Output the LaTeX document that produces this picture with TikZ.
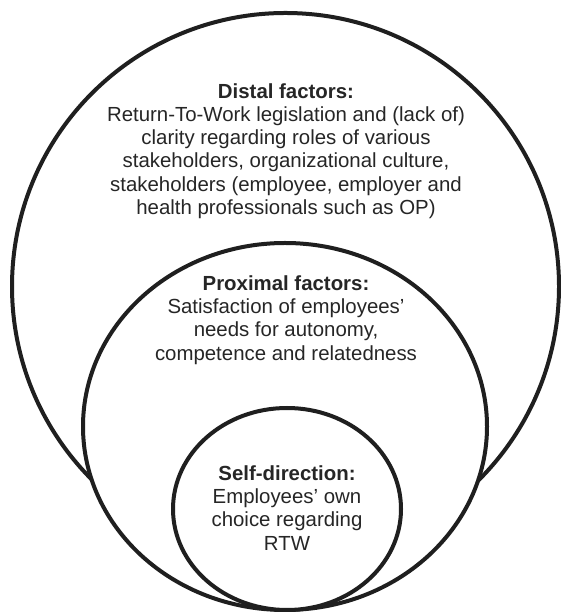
\documentclass[tikz,border=0pt]{standalone}
\usepackage{fontspec}
\setmainfont{Liberation Sans}
\usetikzlibrary{positioning}

\begin{document}
\begin{tikzpicture}[x=1pt, y=1pt,
  ring/.style={line width=4pt, draw=black!88, fill=white},
  every node/.style={align=center, text=black!85,
    font=\fontsize{20.4}{23.2}\selectfont}
 ]
 \useasboundingbox (0,0) rectangle (561,612);

 % outer circle first, the white fill of the next one hides its lower arc
 \draw [ring] (285.5,325.5) circle [radius=273.5];
 \draw [ring] (285,185.5) ellipse [x radius=202, y radius=183.5];
 \draw [ring] (287,103) ellipse [x radius=114, y radius=101];

 \node (D) at (286,461) {\textbf{Distal factors:}\\
  Return-To-Work legislation and (lack of)\\
  clarity regarding roles of various\\
  stakeholders, organizational culture,\\
  stakeholders (employee, employer and\\
  health professionals such as OP)};
 \node (P) at (286,292) {\textbf{Proximal factors:}\\
  Satisfaction of employees'\\
  needs for autonomy,\\
  competence and relatedness};
 \node (S) at (287,104) {\textbf{Self-direction:}\\
  Employees' own\\
  choice regarding\\
  RTW};
\end{tikzpicture}
\end{document}
